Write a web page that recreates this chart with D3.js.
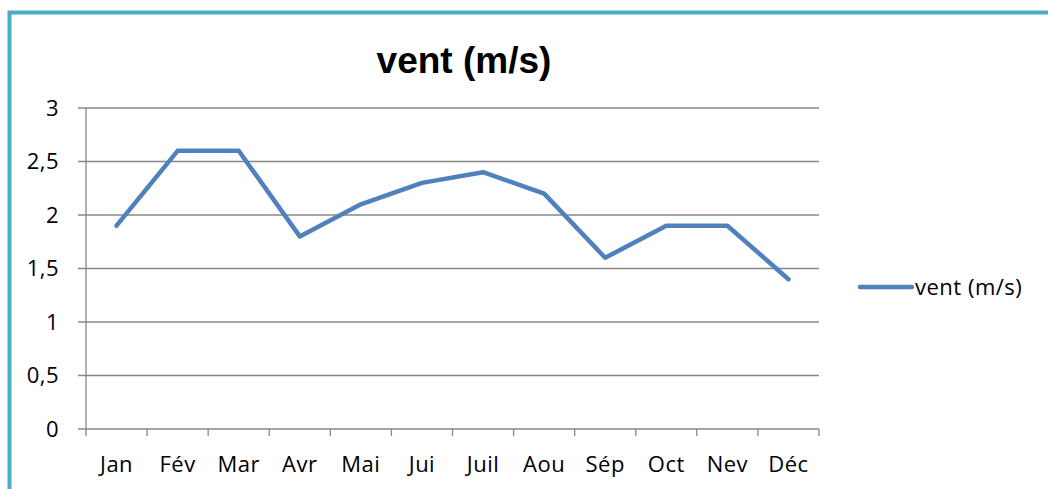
<!DOCTYPE html>
<html>
<head>
<meta charset="utf-8">
<title>vent (m/s)</title>
<script src="https://d3js.org/d3.v7.min.js"></script>
<style>
  body { margin: 0; background: #fff; }
  svg { display: block; }
  text { font-family: "Open Sans", sans-serif; fill: #000; letter-spacing: 0.5px; }
  .title { font-family: "Liberation Sans", Arial, sans-serif; font-weight: bold; letter-spacing: 0; }
</style>
</head>
<body>
<svg id="chart" width="1048" height="489"></svg>
<script>
// data
var months = ['Jan', 'Fév', 'Mar', 'Avr', 'Mai', 'Jui', 'Juil', 'Aou', 'Sép', 'Oct', 'Nev', 'Déc'];
var vent = [1.9, 2.6, 2.6, 1.8, 2.1, 2.3, 2.4, 2.2, 1.6, 1.9, 1.9, 1.4];
var yTicks = [0, 0.5, 1, 1.5, 2, 2.5, 3];
var seriesName = 'vent (m/s)';

var svg = d3.select('#chart');
var margin = {top: 108, left: 86, right: 229, bottom: 60};
var W = 1048, H = 489;
var fs = 22;

// frame (top + left border)
svg.append('path')
  .attr('d', 'M9.5,' + H + 'V12.5H' + W)
  .attr('fill', 'none')
  .attr('stroke', '#4BACC6')
  .attr('stroke-width', 4);

var x = d3.scaleBand().domain(months).range([margin.left, W - margin.right]);
var y = d3.scaleLinear().domain([0, 3]).range([429, margin.top]);

// gridlines
svg.append('g').selectAll('line')
  .data(yTicks)
  .join('line')
    .attr('x1', margin.left - 8)
    .attr('x2', W - margin.right)
    .attr('y1', function(d){ return y(d); })
    .attr('y2', function(d){ return y(d); })
    .attr('stroke', '#878787')
    .attr('stroke-width', 1.3);

// y axis line
svg.append('line')
  .attr('x1', margin.left).attr('x2', margin.left)
  .attr('y1', y(3)).attr('y2', y(0))
  .attr('stroke', '#878787').attr('stroke-width', 1.3);

// y labels
svg.append('g').selectAll('text')
  .data(yTicks)
  .join('text')
    .attr('x', 59)
    .attr('y', function(d){ return y(d); })
    .attr('dy', '0.36em')
    .attr('text-anchor', 'end')
    .attr('font-size', fs)
    .text(function(d){ return String(d).replace('.', ','); });

// x ticks
var xTickPos = months.map(function(m){ return x(m); }).concat([W - margin.right]);
svg.append('g').selectAll('line')
  .data(xTickPos)
  .join('line')
    .attr('x1', function(d){ return d; })
    .attr('x2', function(d){ return d; })
    .attr('y1', y(0))
    .attr('y2', y(0) + 7)
    .attr('stroke', '#878787').attr('stroke-width', 1.3);

// x labels
svg.append('g').selectAll('text')
  .data(months)
  .join('text')
    .attr('x', function(d){ return x(d) + x.bandwidth() / 2; })
    .attr('y', 464)
    .attr('dy', '0.36em')
    .attr('text-anchor', 'middle')
    .attr('font-size', fs)
    .text(function(d){ return d; });

// line
var line = d3.line()
  .x(function(d, i){ return x(months[i]) + x.bandwidth() / 2; })
  .y(function(d){ return y(d); });

svg.append('path')
  .datum(vent)
  .attr('d', line)
  .attr('fill', 'none')
  .attr('stroke', '#4F81BD')
  .attr('stroke-width', 4.5)
  .attr('stroke-linejoin', 'round')
  .attr('stroke-linecap', 'round');

// title
svg.append('text')
  .attr('class', 'title')
  .attr('x', 464)
  .attr('y', 60)
  .attr('dy', '0.36em')
  .attr('text-anchor', 'middle')
  .attr('font-size', 37)
  .text(seriesName);

// legend
svg.append('line')
  .attr('x1', 860).attr('x2', 912)
  .attr('y1', 287).attr('y2', 287)
  .attr('stroke', '#4F81BD').attr('stroke-width', 4.5)
  .attr('stroke-linecap', 'round');
svg.append('text')
  .attr('x', 915)
  .attr('y', 287)
  .attr('dy', '0.36em')
  .attr('font-size', fs)
  .text(seriesName);
</script>
</body>
</html>
